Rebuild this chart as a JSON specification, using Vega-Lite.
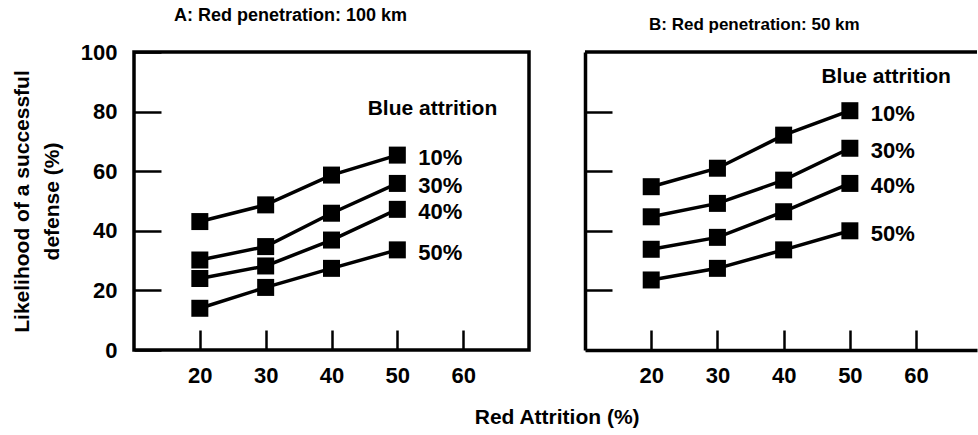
{
  "$schema": "https://vega.github.io/schema/vega-lite/v6.json",
  "background": "white",
  "padding": {"left": 9, "top": 5, "right": 0, "bottom": 5},
  "config": {
    "font": "Liberation Sans",
    "view": {"stroke": "black", "strokeWidth": 3.5},
    "axis": {
      "labelFont": "Liberation Sans", "labelFontWeight": "bold", "labelFontSize": 22, "labelColor": "black",
      "titleFont": "Liberation Sans", "titleFontWeight": "bold", "titleFontSize": 21, "titleColor": "black",
      "domainColor": "black", "tickColor": "black", "grid": false, "tickWidth": 2.5, "domainWidth": 3.5
    }
  },
  "title": {"text": "Red Attrition (%)", "orient": "bottom", "anchor": "middle", "dx": 63, "offset": 19, "font": "Liberation Sans", "fontSize": 21, "fontWeight": "bold", "color": "black"},
  "datasets": {
    "d": [
      {"panel": "A", "blue": "10%", "red": 20, "value": 43.1},
      {"panel": "A", "blue": "10%", "red": 30, "value": 48.7},
      {"panel": "A", "blue": "10%", "red": 40, "value": 58.7},
      {"panel": "A", "blue": "10%", "red": 50, "value": 65.4},
      {"panel": "A", "blue": "30%", "red": 20, "value": 30.2},
      {"panel": "A", "blue": "30%", "red": 30, "value": 34.7},
      {"panel": "A", "blue": "30%", "red": 40, "value": 45.9},
      {"panel": "A", "blue": "30%", "red": 50, "value": 55.9},
      {"panel": "A", "blue": "40%", "red": 20, "value": 24.0},
      {"panel": "A", "blue": "40%", "red": 30, "value": 28.2},
      {"panel": "A", "blue": "40%", "red": 40, "value": 36.9},
      {"panel": "A", "blue": "40%", "red": 50, "value": 47.2},
      {"panel": "A", "blue": "50%", "red": 20, "value": 14.0},
      {"panel": "A", "blue": "50%", "red": 30, "value": 21.0},
      {"panel": "A", "blue": "50%", "red": 40, "value": 27.4},
      {"panel": "A", "blue": "50%", "red": 50, "value": 33.6},
      {"panel": "B", "blue": "10%", "red": 20, "value": 54.8},
      {"panel": "B", "blue": "10%", "red": 30, "value": 61.0},
      {"panel": "B", "blue": "10%", "red": 40, "value": 72.1},
      {"panel": "B", "blue": "10%", "red": 50, "value": 80.3},
      {"panel": "B", "blue": "30%", "red": 20, "value": 44.7},
      {"panel": "B", "blue": "30%", "red": 30, "value": 49.2},
      {"panel": "B", "blue": "30%", "red": 40, "value": 57.0},
      {"panel": "B", "blue": "30%", "red": 50, "value": 67.7},
      {"panel": "B", "blue": "40%", "red": 20, "value": 33.8},
      {"panel": "B", "blue": "40%", "red": 30, "value": 37.8},
      {"panel": "B", "blue": "40%", "red": 40, "value": 46.4},
      {"panel": "B", "blue": "40%", "red": 50, "value": 55.9},
      {"panel": "B", "blue": "50%", "red": 20, "value": 23.5},
      {"panel": "B", "blue": "50%", "red": 30, "value": 27.4},
      {"panel": "B", "blue": "50%", "red": 40, "value": 33.6},
      {"panel": "B", "blue": "50%", "red": 50, "value": 40.0}
    ]
  },
  "spacing": 52,
  "hconcat": [
    {
      "width": 395,
      "height": 298,
      "title": {"text": "A: Red penetration: 100 km", "anchor": "start", "frame": "group", "dx": 40, "offset": 16, "font": "Liberation Sans", "fontSize": 18, "fontWeight": "bold", "color": "black"},
      "data": {"name": "d"},
      "transform": [{"filter": "datum.panel == 'A'"}],
      "encoding": {
        "x": {"field": "red", "type": "quantitative", "scale": {"domain": [10, 70], "nice": false, "zero": false},
              "axis": {"values": [20, 30, 40, 50, 60], "title": null, "domain": false, "tickSize": -20, "labelPadding": 35}},
        "y": {"field": "value", "type": "quantitative", "scale": {"domain": [0, 100], "nice": false},
              "axis": {"values": [0, 20, 40, 60, 80, 100], "title": ["Likelihood of a successful", "defense (%)"], "titleLineHeight": 30, "titlePadding": 18, "domain": false, "tickSize": -27, "labelPadding": 44}}
      },
      "layer": [
        {"mark": {"type": "line", "color": "black", "strokeWidth": 3.5}, "encoding": {"detail": {"field": "blue"}}},
        {"mark": {"type": "square", "filled": true, "color": "black", "size": 289, "opacity": 1}},
        {"transform": [{"filter": "datum.red == 50"}],
         "mark": {"type": "text", "align": "left", "baseline": "middle", "dx": 21, "dy": 3, "fontSize": 22, "fontWeight": "bold", "color": "black"},
         "encoding": {"text": {"field": "blue"}}},
        {"transform": [{"filter": "datum.red == 20 && datum.blue == '10%'"}],
         "mark": {"type": "text", "align": "left", "baseline": "middle", "fontSize": 21, "fontWeight": "bold", "color": "black"},
         "encoding": {"x": {"datum": 45.5}, "y": {"datum": 81}, "text": {"value": "Blue attrition"}}}
      ]
    },
    {
      "width": 392,
      "height": 298,
      "view": {"stroke": null},
      "title": {"text": "B: Red penetration: 50 km", "anchor": "start", "frame": "group", "dx": 64, "offset": 16, "font": "Liberation Sans", "fontSize": 17, "fontWeight": "bold", "color": "black"},
      "data": {"name": "d"},
      "transform": [{"filter": "datum.panel == 'B'"}],
      "encoding": {
        "x": {"field": "red", "type": "quantitative", "scale": {"domain": [10, 69.2], "nice": false, "zero": false},
              "axis": {"values": [20, 30, 40, 50, 60], "title": null, "domain": true, "tickSize": -20, "labelPadding": 35}},
        "y": {"field": "value", "type": "quantitative", "scale": {"domain": [0, 100], "nice": false},
              "axis": {"values": [20, 40, 60, 80], "title": null, "labels": false, "domain": true, "tickSize": -27}}
      },
      "layer": [
        {"transform": [{"filter": "datum.red == 20 && datum.blue == '10%'"}],
         "mark": {"type": "rule", "color": "black", "strokeWidth": 3.5},
         "encoding": {"y": {"datum": 100}, "x": null}},
        {"mark": {"type": "line", "color": "black", "strokeWidth": 3.5}, "encoding": {"detail": {"field": "blue"}}},
        {"mark": {"type": "square", "filled": true, "color": "black", "size": 289, "opacity": 1}},
        {"transform": [{"filter": "datum.red == 50"}],
         "mark": {"type": "text", "align": "left", "baseline": "middle", "dx": 21, "dy": 3, "fontSize": 22, "fontWeight": "bold", "color": "black"},
         "encoding": {"text": {"field": "blue"}}},
        {"transform": [{"filter": "datum.red == 20 && datum.blue == '10%'"}],
         "mark": {"type": "text", "align": "left", "baseline": "middle", "fontSize": 21, "fontWeight": "bold", "color": "black"},
         "encoding": {"x": {"datum": 45.7}, "y": {"datum": 91.7}, "text": {"value": "Blue attrition"}}}
      ]
    }
  ]
}
